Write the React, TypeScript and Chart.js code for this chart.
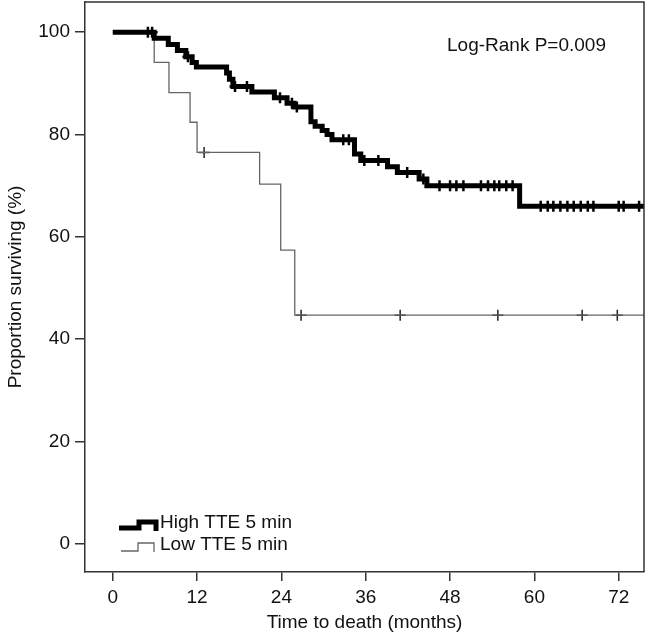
import React, { useEffect, useRef } from "react";
import { Chart, registerables } from "chart.js";

Chart.register(...registerables);

const FONT = "'Liberation Sans', Arial, Helvetica, sans-serif";
const FS = 19;

const xTicks = [0, 12, 24, 36, 48, 60, 72];
const yTicks = [0, 20, 40, 60, 80, 100];

const highTimes = [0, 5.9, 7.9, 9.2, 10.4, 11.3, 11.9, 16.2, 16.6, 17.1, 19.8, 23.0, 24.8, 25.8, 28.2, 28.8, 29.8, 30.5, 31.2, 34.4, 35.3, 39.1, 40.5, 43.6, 44.7, 57.9];
const highSurv = [100, 98.8, 97.6, 96.4, 95.2, 94.1, 93.2, 92.0, 90.8, 89.4, 88.3, 87.2, 86.1, 85.4, 82.5, 81.6, 80.8, 80.0, 79.0, 76.2, 74.9, 73.7, 72.6, 71.3, 70.0, 66.0];
const highCensor = [5.0, 5.6, 10.7, 17.4, 19.1, 23.8, 25.5, 26.2, 32.8, 33.6, 35.8, 37.8, 41.9, 44.2, 46.5, 48.0, 48.9, 49.9, 52.4, 53.4, 54.3, 55.0, 56.0, 56.9, 60.9, 61.9, 62.7, 63.7, 64.7, 65.6, 66.6, 67.6, 68.4, 72.0, 72.7, 74.9];

const lowTimes = [0, 5.9, 8.0, 11.0, 12.0, 20.9, 23.9, 25.9];
const lowSurv = [100, 94.1, 88.2, 82.4, 76.5, 70.3, 57.4, 44.7];
const lowCensor = [13.0, 26.8, 40.9, 54.8, 66.8, 71.8];

const followUpEnd = 75.6;
const xMin = -3.95;
const yMin = -5.5;
const yMax = 105.9;

const seriesNames = ["High TTE 5 min", "Low TTE 5 min"];
const statText = "Log-Rank P=0.009";

function survAt(times: number[], surv: number[], t: number) {
  let v = surv[0];
  for (let i = 0; i < times.length; i++) if (times[i] <= t) v = surv[i];
  return v;
}

function curve(times: number[], surv: number[]) {
  const pts = times.map((t, i) => ({ x: t, y: surv[i] }));
  pts.push({ x: followUpEnd, y: surv[surv.length - 1] });
  return pts;
}

const overlayPlugin = {
  id: "overlay",
  afterDraw(chart: any) {
    const { ctx, chartArea } = chart;
    const { left, top, right, bottom } = chartArea;
    ctx.save();
    // frame
    ctx.strokeStyle = "#333";
    ctx.lineWidth = 1.5;
    ctx.beginPath();
    ctx.moveTo(left, top);
    ctx.lineTo(right, top);
    ctx.lineTo(right, bottom);
    ctx.stroke();

    // stat text
    ctx.fillStyle = "#111";
    ctx.font = `${FS}px ${FONT}`;
    ctx.textBaseline = "middle";
    ctx.textAlign = "left";
    ctx.fillText(statText, left + 362, top + 44);

    // legend
    const lx = left + 34;
    const y1 = bottom - 49;
    const y2 = bottom - 27;
    ctx.lineJoin = "miter";
    ctx.strokeStyle = "#000";
    ctx.lineWidth = 5;
    ctx.beginPath();
    ctx.moveTo(lx, y1 + 5);
    ctx.lineTo(lx + 20, y1 + 5);
    ctx.lineTo(lx + 20, y1 - 1);
    ctx.lineTo(lx + 37, y1 - 1);
    ctx.lineTo(lx + 37, y1 + 8);
    ctx.stroke();

    ctx.strokeStyle = "#666";
    ctx.lineWidth = 1.3;
    ctx.beginPath();
    ctx.moveTo(lx + 2, y2 + 6);
    ctx.lineTo(lx + 19, y2 + 6);
    ctx.lineTo(lx + 19, y2 - 2);
    ctx.lineTo(lx + 35, y2 - 2);
    ctx.lineTo(lx + 35, y2 + 7);
    ctx.stroke();

    ctx.fillStyle = "#111";
    ctx.font = `${FS}px ${FONT}`;
    ctx.fillText(seriesNames[0], lx + 41, y1);
    ctx.fillText(seriesNames[1], lx + 41, y2);
    ctx.restore();
  },
};

export default function App() {
  const ref = useRef<HTMLCanvasElement | null>(null);

  useEffect(() => {
    document.body.style.margin = "0";
    document.body.style.overflow = "hidden";
    const canvas = ref.current;
    if (!canvas) return;

    const chart = new Chart(canvas, {
      type: "line",
      data: {
        datasets: [
          {
            label: seriesNames[0],
            data: curve(highTimes, highSurv),
            stepped: "before",
            borderColor: "#000",
            borderWidth: 5,
            borderJoinStyle: "miter",
            pointRadius: 0,
            fill: false,
          },
          {
            label: seriesNames[1],
            data: curve(lowTimes, lowSurv),
            stepped: "before",
            borderColor: "#666",
            borderWidth: 1.3,
            pointRadius: 0,
            fill: false,
          },
          {
            label: "High censored",
            data: highCensor.map((t) => ({ x: t, y: survAt(highTimes, highSurv, t) })),
            showLine: false,
            pointStyle: "cross",
            pointRadius: 5.5,
            pointBorderWidth: 2.5,
            pointBorderColor: "#000",
          },
          {
            label: "Low censored",
            data: lowCensor.map((t) => ({ x: t, y: survAt(lowTimes, lowSurv, t) })),
            showLine: false,
            pointStyle: "cross",
            pointRadius: 5.5,
            pointBorderWidth: 1.5,
            pointBorderColor: "#222",
          },
        ],
      },
      options: {
        responsive: false,
        animation: false,
        devicePixelRatio: 1,
        layout: { autoPadding: false, padding: { top: 2, right: 6, left: 0, bottom: 0 } },
        plugins: { legend: { display: false }, tooltip: { enabled: false } },
        scales: {
          x: {
            type: "linear",
            min: xMin,
            max: followUpEnd,
            afterBuildTicks: (s: any) => {
              s.ticks = xTicks.map((v) => ({ value: v }));
            },
            afterFit: (s: any) => {
              s.height = 63;
              s.paddingLeft = 0;
              s.paddingRight = 0;
            },
            grid: { drawOnChartArea: false, drawTicks: true, tickLength: 9, color: "#333", lineWidth: 1.5 },
            border: { display: true, color: "#333", width: 1.5 },
            ticks: { color: "#111", font: { size: FS, family: FONT }, padding: 5, maxRotation: 0, autoSkip: false },
            title: {
              display: true,
              text: "Time to death (months)",
              color: "#111",
              font: { size: FS, family: FONT, lineHeight: 0.85 },
            },
          },
          y: {
            type: "linear",
            min: yMin,
            max: yMax,
            afterBuildTicks: (s: any) => {
              s.ticks = yTicks.map((v) => ({ value: v }));
            },
            afterFit: (s: any) => {
              s.width = 85;
              s.paddingTop = 0;
              s.paddingBottom = 0;
            },
            grid: { drawOnChartArea: false, drawTicks: true, tickLength: 10, color: "#333", lineWidth: 1.5 },
            border: { display: true, color: "#333", width: 1.5 },
            ticks: { color: "#111", font: { size: FS, family: FONT }, padding: 5, autoSkip: false },
            title: {
              display: true,
              text: "Proportion surviving (%)",
              color: "#111",
              font: { size: FS, family: FONT, lineHeight: 1.2 },
            },
          },
        },
      },
      plugins: [overlayPlugin],
    } as any);

    return () => chart.destroy();
  }, []);

  return (
    <div style={{ width: 650, height: 635 }}>
      <canvas ref={ref} width={650} height={635} style={{ display: "block" }} />
    </div>
  );
}
